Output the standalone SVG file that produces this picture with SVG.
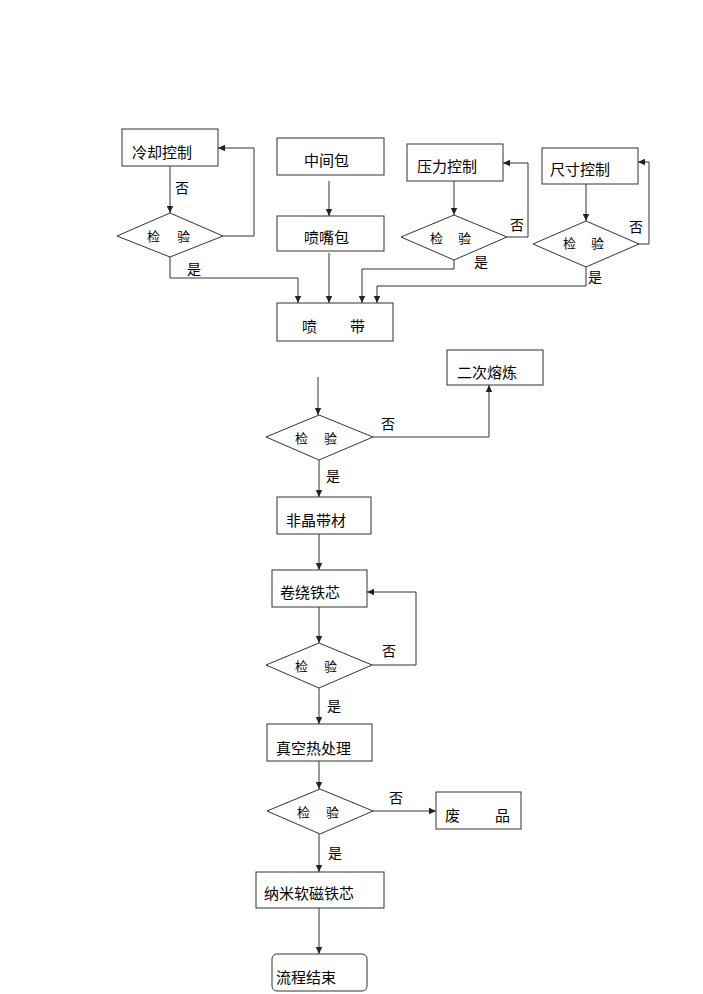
<svg xmlns="http://www.w3.org/2000/svg" width="703" height="994" viewBox="0 0 703 994">
<defs>
<marker id="ah" markerWidth="8" markerHeight="8" refX="7" refY="4" orient="auto" markerUnits="userSpaceOnUse">
<path d="M0,0.8 L7,4 L0,7.2 Z" fill="#222"/>
</marker>
<style>
.b{fill:#fff;stroke:#333;stroke-width:1}
.l{fill:none;stroke:#333;stroke-width:1}
.a{fill:none;stroke:#333;stroke-width:1;marker-end:url(#ah)}
text{font-family:"Noto Sans CJK SC","Liberation Sans",sans-serif;fill:#000}
.t{font-size:15px}
.d{font-size:13px}
.y{font-size:14px}
</style>
</defs>
<rect width="703" height="994" fill="#fff"/>
<g id="connectors">
<path class="a" d="M170,166 V213"/>
<path class="a" d="M223,236 H254 V148 H218"/>
<path class="a" d="M170,257 V278 H298 V303"/>
<path class="a" d="M329,181 V216"/>
<path class="a" d="M329,253 V303"/>
<path class="a" d="M454,181 V215"/>
<path class="a" d="M507,237 H528 V163 H503"/>
<path class="a" d="M454,260 V269 H362 V303"/>
<path class="a" d="M586,184 V221"/>
<path class="a" d="M639,244 H649 V162 H638"/>
<path class="a" d="M586,267 V286 H377 V303"/>
<path class="a" d="M318,377 V415"/>
<path class="a" d="M373,437 H489 V385"/>
<path class="a" d="M319,460 V497"/>
<path class="a" d="M319,534 V570"/>
<path class="a" d="M319,607 V643"/>
<path class="a" d="M372,665 H416 V592 H367"/>
<path class="a" d="M319,688 V724"/>
<path class="a" d="M319,761 V789"/>
<path class="a" d="M373,811 H436"/>
<path class="a" d="M319,834 V872"/>
<path class="a" d="M319,908 V954"/>
<text class="y" x="175" y="193">否</text>
<text class="y" x="187" y="274">是</text>
<text class="y" x="510" y="230">否</text>
<text class="y" x="474" y="267">是</text>
<text class="y" x="629" y="232">否</text>
<text class="y" x="588" y="282">是</text>
<text class="y" x="381" y="429">否</text>
<text class="y" x="326" y="481">是</text>
<text class="y" x="382" y="656">否</text>
<text class="y" x="327" y="711">是</text>
<text class="y" x="389" y="803">否</text>
<text class="y" x="328" y="858">是</text>
</g>
<g id="n-cooling"><rect class="b" x="122" y="129" width="96" height="37"/><text class="t" x="132" y="158">冷却控制</text></g>
<g id="n-check1"><polygon class="b" points="170,213 223,236 170,257 117,236"/><text class="d" y="241"><tspan x="147">检</tspan><tspan x="177">验</tspan></text></g>
<g id="n-tundish"><rect class="b" x="277" y="138" width="107" height="37"/><text class="t" x="304" y="166">中间包</text></g>
<g id="n-nozzle"><rect class="b" x="277" y="216" width="107" height="35"/><text class="t" x="304" y="243">喷嘴包</text></g>
<g id="n-pressure"><rect class="b" x="407" y="144" width="96" height="37"/><text class="t" x="417" y="172">压力控制</text></g>
<g id="n-check2"><polygon class="b" points="454,215 507,237 454,260 401,237"/><text class="d" y="243"><tspan x="430">检</tspan><tspan x="458">验</tspan></text></g>
<g id="n-size"><rect class="b" x="542" y="148" width="96" height="36"/><text class="t" x="550" y="175">尺寸控制</text></g>
<g id="n-check3"><polygon class="b" points="586,221 639,244 586,267 533,244"/><text class="d" y="248"><tspan x="563">检</tspan><tspan x="591">验</tspan></text></g>
<g id="n-spray"><rect class="b" x="277" y="303" width="116" height="38"/><text class="t" y="332"><tspan x="302">喷</tspan><tspan x="350">带</tspan></text></g>
<g id="n-remelt"><rect class="b" x="447" y="350" width="96" height="35"/><text class="t" x="457" y="378">二次熔炼</text></g>
<g id="n-check4"><polygon class="b" points="319,415 373,437 319,460 266,437"/><text class="d" y="443"><tspan x="295">检</tspan><tspan x="324">验</tspan></text></g>
<g id="n-ribbon"><rect class="b" x="277" y="497" width="94" height="37"/><text class="t" x="286" y="526">非晶带材</text></g>
<g id="n-winding"><rect class="b" x="272" y="570" width="95" height="37"/><text class="t" x="280" y="598">卷绕铁芯</text></g>
<g id="n-check5"><polygon class="b" points="319,643 372,665 319,688 266,665"/><text class="d" y="671"><tspan x="295">检</tspan><tspan x="324">验</tspan></text></g>
<g id="n-vacuum"><rect class="b" x="267" y="724" width="105" height="37"/><text class="t" x="276" y="754">真空热处理</text></g>
<g id="n-check6"><polygon class="b" points="320,789 373,811 320,834 267,811"/><text class="d" y="817"><tspan x="297">检</tspan><tspan x="326">验</tspan></text></g>
<g id="n-waste"><rect class="b" x="436" y="792" width="85" height="37"/><text class="t" y="821"><tspan x="445">废</tspan><tspan x="495">品</tspan></text></g>
<g id="n-nano"><rect class="b" x="256" y="872" width="128" height="36"/><text class="t" x="264" y="899">纳米软磁铁芯</text></g>
<g id="n-end"><rect class="b" x="272" y="954" width="95" height="37" rx="5"/><text class="t" x="276" y="983">流程结束</text></g>
</svg>
